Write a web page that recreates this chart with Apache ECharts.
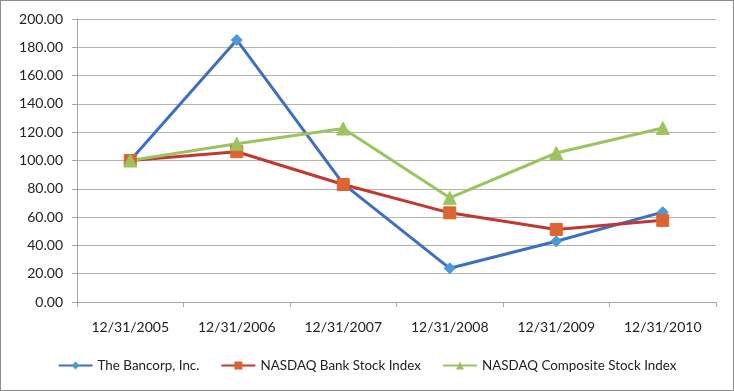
<!DOCTYPE html>
<html><head><meta charset="utf-8">
<script src="https://cdn.jsdelivr.net/npm/echarts@6/dist/echarts.min.js"></script>
<style>html,body{margin:0;padding:0;background:#fff}#c{width:734px;height:391px;box-sizing:border-box;border:1px solid #8c8c8c}</style>
</head><body><div id="c"></div>
<script>
const categories = ['12/31/2005','12/31/2006','12/31/2007','12/31/2008','12/31/2009','12/31/2010'];
const bancorp = [100.00, 185.2, 83.5, 23.8, 42.9, 63.5];
const bankIndex = [100.00, 106.2, 83.0, 63.0, 51.3, 57.7];
const compositeIndex = [100.00, 111.8, 122.6, 73.6, 105.3, 123.0];
const seriesNames = ['The Bancorp, Inc.','NASDAQ Bank Stock Index','NASDAQ Composite Stock Index'];

const chart = echarts.init(document.getElementById('c'));
const font = 'Lato, "Open Sans", sans-serif';
function mk(name, data, color, markerColor, symbol, size){
  return {name, type:'line', data, symbol, symbolSize:size,
    lineStyle:{color, width:3}, itemStyle:{color:markerColor, borderColor:markerColor}, z: 2};
}
chart.setOption({
  animation:false,
  textStyle:{fontFamily:font},
  grid:{left:76, right:17, top:18, bottom:88, containLabel:false},
  legend:{bottom:13, left:'center', itemGap:21, itemWidth:34, itemHeight:10,
    textStyle:{fontFamily:font, fontSize:13.4, color:'#222'},
    data:seriesNames},
  xAxis:{type:'category', data:categories, boundaryGap:true,
    axisLine:{lineStyle:{color:'#a6a6a6'}},
    axisTick:{show:true, length:5, lineStyle:{color:'#a6a6a6'}},
    axisLabel:{fontFamily:font, fontSize:14, color:'#222', margin:18}},
  yAxis:{type:'value', min:0, max:200, interval:20,
    axisLine:{show:true, lineStyle:{color:'#a6a6a6'}},
    axisTick:{show:true, length:5, lineStyle:{color:'#a6a6a6'}},
    splitLine:{lineStyle:{color:'#b3b3b3'}},
    axisLabel:{fontFamily:font, fontSize:14, color:'#222', margin:14, formatter:v=>v.toFixed(2)}},
  series:[
    mk(seriesNames[0], bancorp, '#3c6fc4', '#4a9ad8', 'diamond', 11),
    mk(seriesNames[1], bankIndex, '#c0392f', '#dd6330', 'rect', 12),
    mk(seriesNames[2], compositeIndex, '#9bc45e', '#9bc45e', 'triangle', 13)
  ]
});
</script></body></html>
